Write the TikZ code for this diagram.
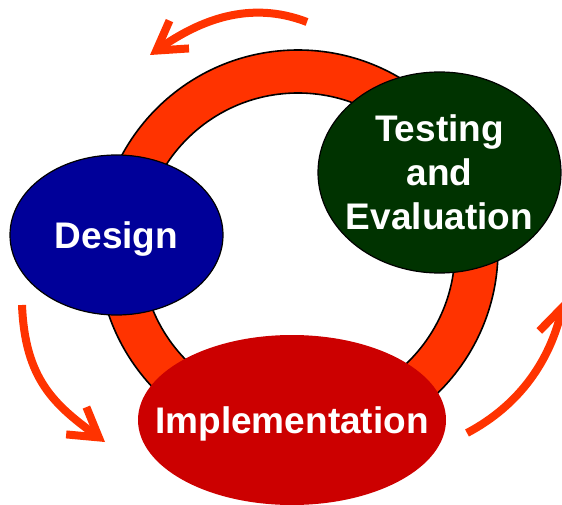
\documentclass[tikz,border=0pt]{standalone}
\usepackage{fontspec}
\setmainfont{Liberation Sans}
\usetikzlibrary{arrows.meta}

\definecolor{ringred}{HTML}{FF3300}
\definecolor{designblue}{HTML}{000099}
\definecolor{testgreen}{HTML}{003300}
\definecolor{implred}{HTML}{CC0000}

\begin{document}
\begin{tikzpicture}[x=1pt,y=-1pt,
    phase/.style={inner sep=0pt,text=white,font=\bfseries\fontsize{37}{44}\selectfont},
    oneline/.style={phase,text depth=0pt},
    cyclearrow/.style={draw=ringred,line width=8pt,-{Straight Barb[length=28pt,width=34pt]}}]
  \useasboundingbox (0,0) rectangle (562,505);
  \clip (0,0) rectangle (562,505);

  % the loop behind the three phases
  \coordinate (hub) at (298,250);
  \draw[line width=1.6pt,fill=ringred,even odd rule]
    (hub) circle[radius=200pt] (hub) circle[radius=157pt];

  \coordinate (design-c) at (116.5,235);
  \coordinate (testing-c) at (439.5,172.5);
  \coordinate (impl-c) at (292,420);
  \draw[fill=designblue,line width=1.2pt] (design-c) ellipse[x radius=106.5pt,y radius=80pt];
  \draw[fill=testgreen,line width=1.2pt] (testing-c) ellipse[x radius=121.5pt,y radius=100.5pt];
  \fill[implred] (impl-c) ellipse[x radius=154pt,y radius=85pt];

  \node[oneline] (design) at (design-c) {Design};
  \node[phase,align=center] (testing) at (testing-c) {Testing\\and\\Evaluation};
  \node[oneline] (impl) at (impl-c) {Implementation};

  % arrows running round the loop
  \coordinate (top-from) at (307,22);
  \coordinate (top-to) at (150,55);
  \coordinate (left-from) at (22,305);
  \coordinate (left-to) at (105,442);
  \coordinate (right-from) at (467,433);
  \coordinate (right-to) at (564,300);
  \draw[cyclearrow] (top-from) .. controls (250,0) and (200,20) .. (top-to);
  \draw[cyclearrow] (left-from) .. controls (25,380) and (55,405) .. (left-to);
  \draw[cyclearrow] (right-from) .. controls (520,405) and (550,360) .. (right-to);
\end{tikzpicture}
\end{document}
